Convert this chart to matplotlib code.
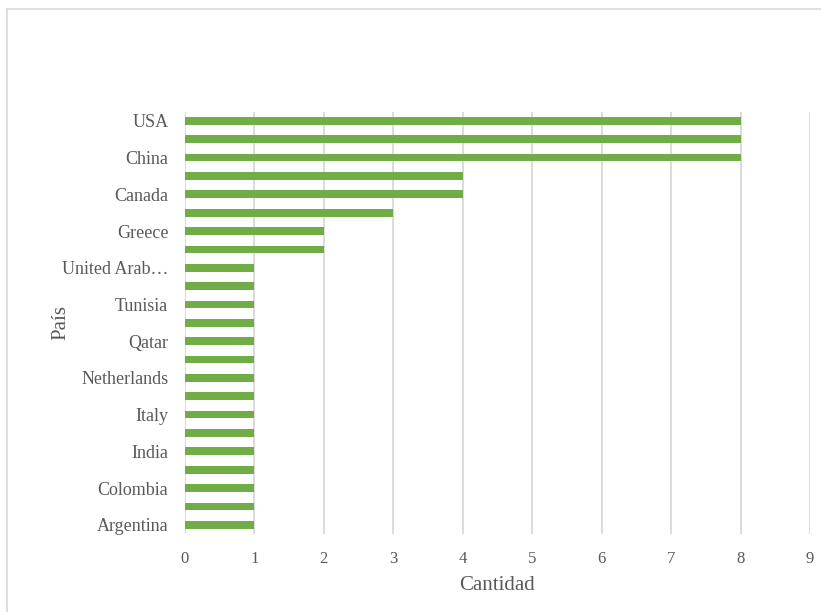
import matplotlib
matplotlib.use('Agg')
import matplotlib.pyplot as plt
from matplotlib.lines import Line2D

# bottom to top, as the chart lists them
countries = ['Argentina', 'Brazil', 'Colombia', 'France', 'India', 'Indonesia',
             'Italy', 'Malaysia', 'Netherlands', 'Pakistan', 'Qatar', 'Spain',
             'Tunisia', 'Turkey', 'United Arab Emirates', 'Germany', 'Greece',
             'Japan', 'Canada', 'Korea', 'China', 'United Kingdom', 'USA']
cantidad = [1, 1, 1, 1, 1, 1, 1, 1, 1, 1, 1, 1, 1, 1, 1,
            2, 2, 3, 4, 4, 8, 8, 8]
x_ticks = [0, 1, 2, 3, 4, 5, 6, 7, 8, 9]

GREEN = '#70AD47'
GRID = '#D9D9D9'
TEXT = '#595959'


def short(name, n=11):
    # excel cuts long category names
    return name if len(name) <= n + 1 else name[:n] + '\u2026'


def main():
    plt.rcParams['font.family'] = ['Liberation Serif', 'DejaVu Serif']
    fig = plt.figure(figsize=(8.21, 6.12), dpi=100)
    ax = fig.add_axes([0.2253, 0.1275, 0.7613, 0.69])

    pos = list(range(len(countries)))
    ax.barh(pos, cantidad, height=0.42, color=GREEN, zorder=3)

    ax.set_xlim(0, 9)
    ax.set_ylim(-0.5, len(countries) - 0.5)
    ax.set_xticks(x_ticks)
    ax.set_xticklabels([str(t) for t in x_ticks], fontsize=12, color=TEXT)
    ax.set_yticks(pos)
    ax.set_yticklabels([short(c) if i % 2 == 0 else '' for i, c in enumerate(countries)],
                       fontsize=13, color=TEXT)
    ax.tick_params(length=0)
    ax.tick_params(axis='y', pad=12)
    ax.tick_params(axis='x', pad=12)
    ax.grid(axis='x', color=GRID, linewidth=1.3, zorder=0)
    for s in ax.spines.values():
        s.set_visible(False)

    ax.set_xlabel('Cantidad', fontsize=15, color=TEXT, labelpad=7)
    ax.set_ylabel('País', fontsize=15, color=TEXT)
    ax.yaxis.set_label_coords(-0.183, 0.5)

    # chart area frame (only left and top edges are in view)
    fig.add_artist(Line2D([0.008, 0.008], [0, 0.986], color=GRID, lw=1.2))
    fig.add_artist(Line2D([0.008, 1.0], [0.986, 0.986], color=GRID, lw=1.2))

    fig.savefig('out.png', dpi=100)


if __name__ == '__main__':
    main()
